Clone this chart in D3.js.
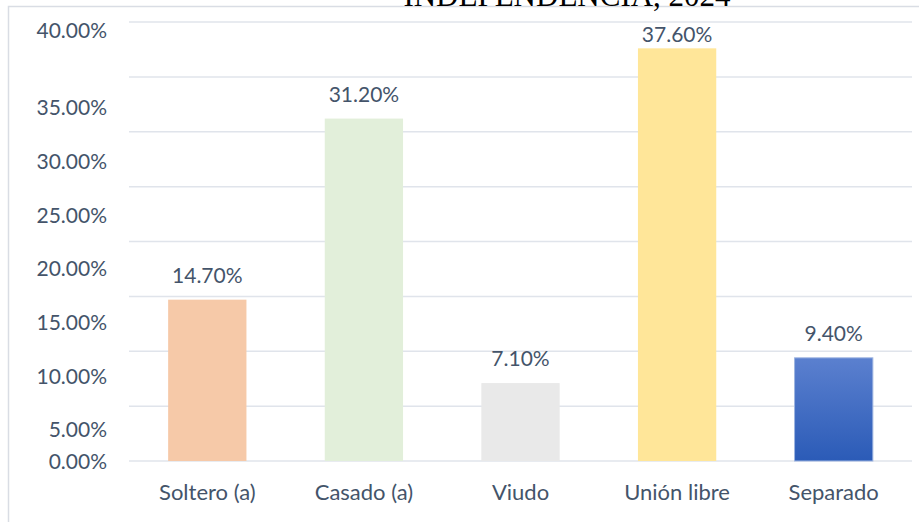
<!DOCTYPE html>
<html>
  <head>
    <meta charset="utf-8">
    <title>Estado civil</title>
    <style>
      body { margin: 0; background: #fff; }
      svg { display: block; }
      .lbl { font-family: Lato, "Open Sans", sans-serif; font-size: 21px; fill: #44546a; }
      .cat { font-size: 22px; }
      .title { font-family: "Liberation Serif", "DejaVu Serif", serif; font-size: 31px; fill: #000; }
    </style>
  </head>
  <body>
    <div id="chart"></div>
    <script src="https://d3js.org/d3.v7.min.js"></script>
    <script>
    // data
    var categories = ['Soltero (a)', 'Casado (a)', 'Viudo', 'Unión libre', 'Separado'];
    var values = [14.7, 31.2, 7.1, 37.6, 9.4];
    var yTicks = [0, 5, 10, 15, 20, 25, 30, 35, 40];
    var barColors = ['#f6c9a8', '#e2efda', '#e9e9e9', '#ffe699', 'url(#blueGrad)'];

    var width = 919, height = 522;
    var plot = { left: 129, right: 912, top: 22, bottom: 461 };

    var svg = d3.select('#chart')
      .append('svg')
      .attr('width', width)
      .attr('height', height);

    var defs = svg.append('defs');
    var grad = defs.append('linearGradient')
      .attr('id', 'blueGrad')
      .attr('x1', 0).attr('y1', 0).attr('x2', 0).attr('y2', 1);
    grad.append('stop').attr('offset', '0%').attr('stop-color', '#5b80cf');
    grad.append('stop').attr('offset', '100%').attr('stop-color', '#2b5bb7');

    // chart frame (runs off the right and bottom edge)
    svg.append('rect')
      .attr('x', 8.5).attr('y', 6.5)
      .attr('width', width + 10).attr('height', height + 10)
      .attr('fill', 'none')
      .attr('stroke', '#d9dde4')
      .attr('stroke-width', 1.5);

    var x = d3.scaleBand()
      .domain(categories)
      .range([plot.left, plot.right])
      .paddingInner(0.5)
      .paddingOuter(0.25);

    var y = d3.scaleLinear()
      .domain([0, 40])
      .range([plot.bottom, plot.top]);

    // tick labels in the picture sit off their gridlines, so they get their own scale
    var yLabel = d3.scaleLinear()
      .domain([0, 5, 35, 40])
      .range([462, 430, 108, 31]);

    // gridlines
    svg.append('g')
      .selectAll('line')
      .data(yTicks)
      .enter()
      .append('line')
      .attr('x1', plot.left)
      .attr('x2', plot.right)
      .attr('y1', function(d) { return y(d); })
      .attr('y2', function(d) { return y(d); })
      .attr('stroke', '#e0e4eb')
      .attr('stroke-width', 1.5);

    // y tick labels
    svg.append('g')
      .selectAll('text')
      .data(yTicks)
      .enter()
      .append('text')
      .attr('class', 'lbl')
      .attr('x', 107)
      .attr('y', function(d) { return yLabel(d); })
      .attr('dy', '0.35em')
      .attr('text-anchor', 'end')
      .text(function(d) { return d.toFixed(2) + '%'; });

    // bars
    svg.append('g')
      .selectAll('rect')
      .data(values)
      .enter()
      .append('rect')
      .attr('x', function(d, i) { return x(categories[i]); })
      .attr('width', x.bandwidth())
      .attr('y', function(d) { return y(d); })
      .attr('height', function(d) { return y(0) - y(d); })
      .attr('fill', function(d, i) { return barColors[i]; })
      .attr('stroke', function(d, i) { return i === 4 ? '#9db4e0' : 'none'; })
      .attr('stroke-width', 1);

    // value labels
    svg.append('g')
      .selectAll('text')
      .data(values)
      .enter()
      .append('text')
      .attr('class', 'lbl')
      .attr('x', function(d, i) { return x(categories[i]) + x.bandwidth() / 2; })
      .attr('y', function(d) { return Math.max(y(d) - 17, y(40) + 20); })
      .attr('text-anchor', 'middle')
      .text(function(d) { return d.toFixed(2) + '%'; });

    // category labels
    svg.append('g')
      .selectAll('text')
      .data(categories)
      .enter()
      .append('text')
      .attr('class', 'lbl cat')
      .attr('x', function(d) { return x(d) + x.bandwidth() / 2; })
      .attr('y', 500)
      .attr('text-anchor', 'middle')
      .text(function(d) { return d; });

    // title, cut off at the top in the original
    svg.append('text')
      .attr('class', 'title')
      .attr('x', 567)
      .attr('y', 6)
      .attr('text-anchor', 'middle')
      .text('INDEPENDENCIA, 2024');
    </script>
  </body>
</html>
